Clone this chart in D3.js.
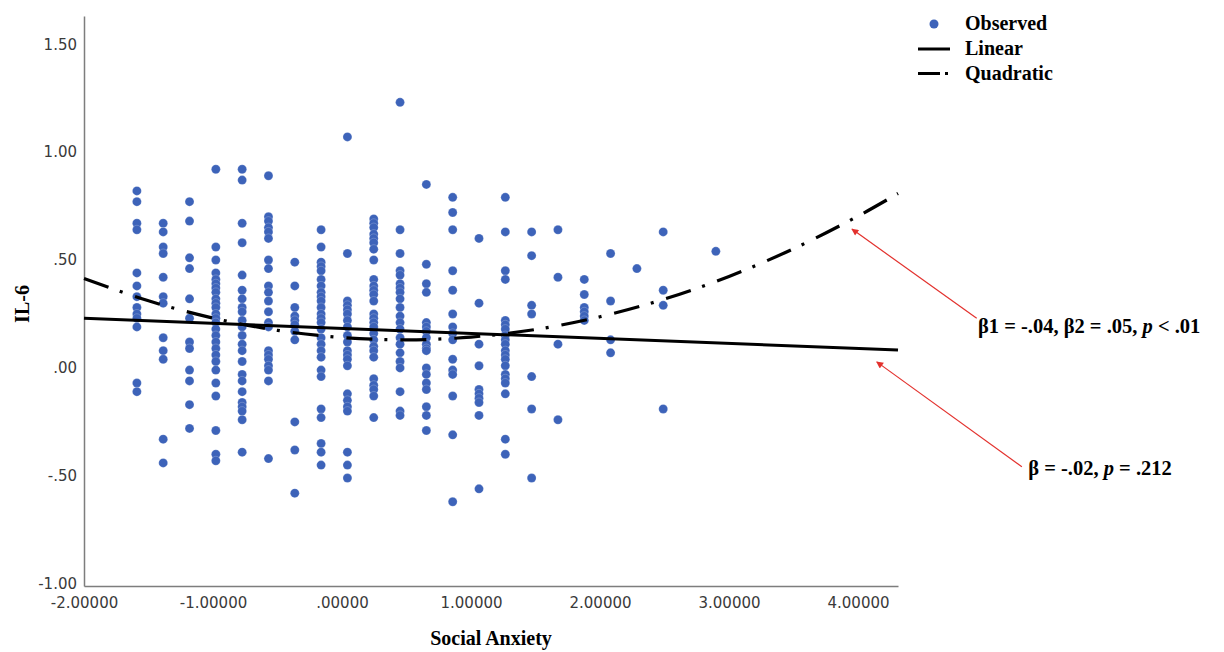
<!DOCTYPE html>
<html>
<head>
<meta charset="utf-8">
<script src="https://cdn.jsdelivr.net/npm/d3@7"></script>
<style>
  body { margin: 0; background: #fff; }
  .tick text { font-family: "DejaVu Sans", sans-serif; font-size: 15px; fill: #3a3a3a; }
  .serif { font-family: "Liberation Serif", "Times New Roman", serif; font-weight: bold; fill: #000; }
</style>
</head>
<body>
<div id="chart"></div>
<script>
// social anxiety levels (one column of dots per level)
const anxietyLevels = [-1.590, -1.386, -1.182, -0.978, -0.774, -0.570, -0.366, -0.162, 0.042, 0.246,
  0.450, 0.654, 0.858, 1.062, 1.266, 1.470, 1.674, 1.878, 2.082, 2.286, 2.490, 2.898];

// observed IL-6 values for each level above
const il6Observed = [
  [0.83, 0.78, 0.68, 0.65, 0.45, 0.39, 0.34, 0.29, 0.26, 0.24, 0.20, -0.06, -0.10],
  [0.68, 0.64, 0.57, 0.54, 0.43, 0.34, 0.31, 0.15, 0.09, 0.05, -0.32, -0.43],
  [0.78, 0.69, 0.52, 0.47, 0.33, 0.24, 0.13, 0.10, 0.00, -0.05, -0.16, -0.27],
  [0.93, 0.57, 0.51, 0.45, 0.42, 0.40, 0.38, 0.36, 0.33, 0.31, 0.29, 0.26, 0.24, 0.22, 0.19, 0.16,
    0.13, 0.10, 0.07, 0.04, 0.00, -0.06, -0.12, -0.28, -0.39, -0.42],
  [0.93, 0.88, 0.68, 0.59, 0.44, 0.37, 0.33, 0.29, 0.27, 0.23, 0.20, 0.16, 0.12, 0.09, 0.04, -0.02,
    -0.05, -0.10, -0.15, -0.17, -0.19, -0.23, -0.38],
  [0.90, 0.71, 0.69, 0.66, 0.64, 0.61, 0.51, 0.47, 0.39, 0.36, 0.32, 0.27, 0.22, 0.20, 0.09, 0.07,
    0.05, 0.02, 0.00, -0.05, -0.41],
  [0.50, 0.39, 0.29, 0.25, 0.23, 0.21, 0.18, 0.14, -0.24, -0.37, -0.57],
  [0.65, 0.57, 0.50, 0.48, 0.46, 0.42, 0.39, 0.36, 0.34, 0.32, 0.29, 0.26, 0.24, 0.22, 0.19, 0.15,
    0.12, 0.09, 0.06, 0.00, -0.03, -0.18, -0.22, -0.34, -0.38, -0.44],
  [1.08, 0.54, 0.32, 0.30, 0.28, 0.26, 0.23, 0.20, 0.16, 0.13, 0.09, 0.07, 0.05, 0.02, -0.11, -0.14,
    -0.17, -0.19, -0.38, -0.44, -0.50],
  [0.70, 0.68, 0.66, 0.63, 0.61, 0.59, 0.56, 0.51, 0.42, 0.39, 0.37, 0.35, 0.32, 0.26, 0.24, 0.22,
    0.20, 0.17, 0.14, 0.11, 0.09, 0.06, -0.04, -0.07, -0.09, -0.12, -0.22],
  [1.24, 0.65, 0.54, 0.46, 0.44, 0.40, 0.38, 0.36, 0.33, 0.29, 0.25, 0.22, 0.19, 0.15, 0.12, 0.08,
    0.04, 0.01, -0.10, -0.19, -0.21],
  [0.86, 0.49, 0.40, 0.36, 0.22, 0.20, 0.18, 0.15, 0.12, 0.10, 0.09, 0.01, -0.02, -0.06, -0.09,
    -0.17, -0.21, -0.28],
  [0.80, 0.73, 0.65, 0.46, 0.37, 0.26, 0.20, 0.17, 0.14, 0.05, 0.00, -0.02, -0.12, -0.30, -0.61],
  [0.61, 0.31, 0.12, 0.02, -0.09, -0.11, -0.13, -0.15, -0.21, -0.55],
  [0.80, 0.64, 0.46, 0.42, 0.23, 0.21, 0.19, 0.16, 0.14, 0.12, 0.09, 0.07, 0.05, 0.02, -0.02, -0.04,
    -0.06, -0.11, -0.32, -0.39],
  [0.64, 0.53, 0.30, 0.26, -0.03, -0.18, -0.50],
  [0.65, 0.43, 0.12, -0.23],
  [0.42, 0.35, 0.29, 0.27, 0.25, 0.23],
  [0.54, 0.32, 0.14, 0.08],
  [0.47],
  [0.64, 0.37, 0.30, -0.18],
  [0.55]
];

// fitted lines
const linearX = [-2.0, 4.31];
const linearY = [0.240, 0.093];
const quadX = [-2.0, -1.5, -1.0, -0.5, 0.0, 0.5, 1.0, 1.5, 2.0, 2.5, 3.0, 3.5, 4.0, 4.31];
const quadY = [0.424, 0.321, 0.241, 0.184, 0.151, 0.140, 0.153, 0.188, 0.247, 0.329, 0.434, 0.562, 0.713, 0.818];

// axes
const xTicks = [-2, -1, 0, 1, 2, 3, 4];
const xTickLabels = ["-2.00000", "-1.00000", ".00000", "1.00000", "2.00000", "3.00000", "4.00000"];
const yTicks = [-1, -0.5, 0, 0.5, 1, 1.5];
const yTickLabels = ["-1.00", "-.50", ".00", ".50", "1.00", "1.50"];

// annotations (data units)
const arrowFromX = [4.92, 5.27];
const arrowFromY = [0.24, -0.448];
const arrowToX = [3.953, 4.145];
const arrowToY = [0.653, 0.038];
const noteX = [4.93, 5.32];
const noteY = [0.171, -0.486];
const noteParts = [
  [["β1 = -.04, β2 = .05, ", false], ["p", true], [" < .01", false]],
  [["β = -.02, ", false], ["p", true], [" = .212", false]]
];

const width = 1224, height = 652;
const margin = {top: 16, left: 84, right: 326, bottom: 66};

const svg = d3.select("#chart").append("svg")
    .attr("width", width)
    .attr("height", height);

const x = d3.scaleLinear()
    .domain([-2, 4.31])
    .range([margin.left, width - margin.right]);

const y = d3.scaleLinear()
    .domain([-1, 1.64])
    .range([height - margin.bottom, margin.top]);

// flatten points
let points = [];
anxietyLevels.forEach((lv, i) => {
    il6Observed[i].forEach(v => points.push({sa: lv, il6: v}));
});

// axes
const yAxis = d3.axisLeft(y)
    .tickValues(yTicks)
    .tickFormat((d, i) => yTickLabels[i])
    .tickSize(0)
    .tickPadding(7);

const xAxis = d3.axisBottom(x)
    .tickValues(xTicks)
    .tickFormat((d, i) => xTickLabels[i])
    .tickSize(0)
    .tickPadding(11);

svg.append("g")
    .attr("class", "y-axis")
    .attr("transform", "translate(" + margin.left + ",-2)")
    .call(yAxis)
    .select(".domain").attr("transform", "translate(0,2)");

svg.append("g")
    .attr("class", "x-axis")
    .attr("transform", "translate(0," + (height - margin.bottom) + ")")
    .call(xAxis);

svg.selectAll(".domain")
    .attr("stroke", "#7d7d7d")
    .attr("stroke-width", 1.5);

// dots
svg.append("g")
    .selectAll("circle")
    .data(points)
    .enter()
    .append("circle")
    .attr("cx", d => x(d.sa))
    .attr("cy", d => y(d.il6))
    .attr("r", 4.5)
    .attr("fill", "#3d63b9")
    .attr("stroke", "#ffffff")
    .attr("stroke-opacity", 0.35)
    .attr("stroke-width", 0.6);

// lines
const lineGen = d3.line()
    .x(d => x(d[0]))
    .y(d => y(d[1]));

svg.append("path")
    .attr("d", lineGen(linearX.map((v, i) => [v, linearY[i]])))
    .attr("fill", "none")
    .attr("stroke", "#000")
    .attr("stroke-width", 3);

svg.append("path")
    .attr("d", lineGen.curve(d3.curveCatmullRom)(quadX.map((v, i) => [v, quadY[i]])))
    .attr("fill", "none")
    .attr("stroke", "#000")
    .attr("stroke-width", 3.2)
    .attr("stroke-dasharray", "26,12,3,13");

// axis titles
svg.append("text")
    .attr("class", "serif")
    .attr("transform", "translate(29,304) rotate(-90)")
    .attr("text-anchor", "middle")
    .attr("font-size", 20)
    .text("IL-6");

svg.append("text")
    .attr("class", "serif")
    .attr("x", (margin.left + width - margin.right) / 2)
    .attr("y", 645)
    .attr("text-anchor", "middle")
    .attr("font-size", 20)
    .text("Social Anxiety");

// legend
const legend = svg.append("g").attr("transform", "translate(918,0)");
legend.append("circle")
    .attr("cx", 16).attr("cy", 24).attr("r", 4.5)
    .attr("fill", "#3d63b9");
legend.append("line")
    .attr("x1", 0).attr("x2", 32).attr("y1", 49).attr("y2", 49)
    .attr("stroke", "#000").attr("stroke-width", 3);
legend.append("line")
    .attr("x1", 0).attr("x2", 32).attr("y1", 73.5).attr("y2", 73.5)
    .attr("stroke", "#000").attr("stroke-width", 3)
    .attr("stroke-dasharray", "22,5,3,20");
["Observed", "Linear", "Quadratic"].forEach((t, i) => {
    legend.append("text")
        .attr("class", "serif")
        .attr("x", 47)
        .attr("y", 30 + i * 25)
        .attr("font-size", 20)
        .text(t);
});

// red arrows with notes
svg.append("defs").append("marker")
    .attr("id", "head")
    .attr("viewBox", "0 0 10 10")
    .attr("refX", 9).attr("refY", 5)
    .attr("markerWidth", 9).attr("markerHeight", 7)
    .attr("markerUnits", "userSpaceOnUse")
    .attr("orient", "auto")
    .append("path")
    .attr("d", "M0,0 L10,5 L0,10 Z")
    .attr("fill", "#e3312d");

arrowFromX.forEach((fx, i) => {
    svg.append("line")
        .attr("x1", x(fx)).attr("y1", y(arrowFromY[i]))
        .attr("x2", x(arrowToX[i])).attr("y2", y(arrowToY[i]))
        .attr("stroke", "#e3312d")
        .attr("stroke-width", 1.2)
        .attr("marker-end", "url(#head)");

    let t = svg.append("text")
        .attr("class", "serif")
        .attr("x", x(noteX[i]))
        .attr("y", y(noteY[i]))
        .attr("font-size", 20.5);
    noteParts[i].forEach(p => {
        t.append("tspan")
            .attr("font-style", p[1] ? "italic" : "normal")
            .text(p[0]);
    });
});
</script>
</body>
</html>
